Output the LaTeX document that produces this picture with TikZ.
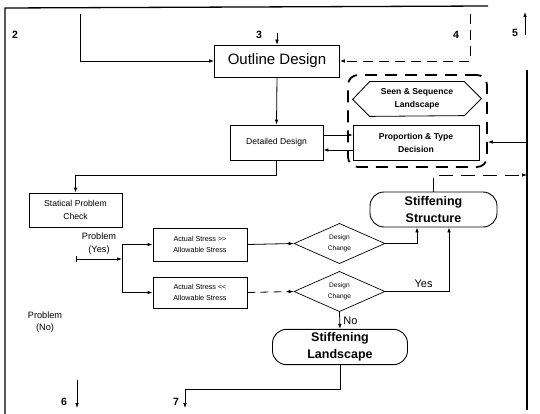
\documentclass[tikz,border=0pt]{standalone}
\usepackage{fontspec}
\setmainfont{Liberation Sans}
\usetikzlibrary{arrows.meta,shapes.geometric,calc}
\begin{document}
\begin{tikzpicture}[x=1pt,y=-1pt,
  line width=0.8pt,
  arr/.style={-{Latex[length=5pt,width=3.6pt]}},
  box/.style={draw,line width=0.7pt,inner sep=1pt,align=center},
  tiny/.style={font=\fontsize{7.2}{11}\selectfont},
  small/.style={font=\fontsize{8.6}{12.5}\selectfont},
  smallb/.style={font=\bfseries\fontsize{8.6}{13}\selectfont},
  stad/.style={draw,line width=0.9pt,rounded corners=14pt,align=center,font=\bfseries\fontsize{12.5}{17}\selectfont},
  dia/.style={draw,diamond,line width=0.7pt,inner sep=0pt,align=center,font=\fontsize{6.6}{11}\selectfont},
  num/.style={font=\bfseries\fontsize{10.5}{12}\selectfont},
  lab/.style={font=\fontsize{9.2}{12.5}\selectfont,align=center},
  grp/.style={draw,line width=1.8pt,dash pattern=on 12pt off 8pt,rounded corners=10pt},
  frame/.style={line width=1.3pt}
]
\useasboundingbox (0,0) rectangle (540,414);

% frame
\draw[frame] (5,414) -- (5,8) -- (488,6);
\draw[frame] (527,410) -- (527,70);

% nodes
\node[box,minimum width=125,minimum height=32,font=\fontsize{15}{17}\selectfont] (outline) at (277,61) {Outline Design};
\node[box,minimum width=93,minimum height=35,small] (detailed) at (276.5,142.5) {Detailed Design};
\node[grp,minimum width=139,minimum height=92] (group) at (417.5,121) {};
\node[minimum width=94,minimum height=34,smallb,align=center,inner sep=0pt] (hex) at (417,99) {Seen \& Sequence\\Landscape};
\draw[line width=0.8pt] (hex.north west) -- (hex.north east) -- ++(17,17) -- ++(-17,17) -- (hex.south west) -- ++(-17,-17) -- cycle;
\node[box,minimum width=126,minimum height=35,smallb] (prop) at (416,142.5) {Proportion \& Type\\Decision};
\node[box,minimum width=93,minimum height=34,small] (stat) at (75.5,210) {Statical Problem\\Check};
\node[box,minimum width=94,minimum height=33,tiny] (act1) at (200,244.5) {Actual Stress >{}>\\Allowable Stress};
\node[box,minimum width=94,minimum height=31,tiny] (act2) at (200,292.5) {Actual Stress <{}<\\Allowable Stress};
\node[dia,minimum width=91,minimum height=33] (dc1) at (339.5,243.5) {Design\\Change};
\node[dia,minimum width=91,minimum height=33] (dc2) at (339.5,291.5) {Design\\Change};
\node[stad,minimum width=127,minimum height=35] (ss) at (433.5,209.5) {Stiffening\\Structure};
\node[stad,minimum width=135,minimum height=32] (sl) at (340,347) {Stiffening\\Landscape};

% labels
\node[num] (n2) at (15,35) {2};
\node[num] (n3) at (259,35) {3};
\node[num] (n4) at (456,35) {4};
\node[num] (n5) at (515,33) {5};
\node[num] (n6) at (64,402) {6};
\node[num] (n7) at (176,402) {7};
\node[lab] (py) at (99,243.5) {Problem\\(Yes)};
\node[lab] (pn) at (45,322) {Problem\\(No)};

% coordinates
\coordinate (c2) at (80,14);
\coordinate (c3) at (277,33);
\coordinate (c4) at (470,14);
\coordinate (c5a) at (525,35);
\coordinate (c5b) at (525,12);
\coordinate (cR) at (527,142);
\coordinate (cR2) at (527,175);
\coordinate (cs) at (76,259);
\coordinate (ce) at (122,259);
\coordinate (c6a) at (77,380);
\coordinate (c6b) at (77,408);
\coordinate (c7) at (185,408);

% connectors
\draw[arr] (c2) |- (outline.west);
\draw[arr,line width=0.6pt] (c3) -- (outline.north);
\draw[arr,dashed,dash pattern=on 10pt off 6pt] (c4) |- (outline.east);
\draw[arr] (c5a) -- (c5b);
\draw[arr] (outline.south) -- (detailed.north);
\draw[arr,line width=0.6pt] ([yshift=7.5pt]detailed.east) -- ([yshift=7.5pt]prop.west);
\draw[arr] ([yshift=-7.5pt]prop.west) -- ([yshift=-7.5pt]detailed.east);
\draw[arr] (cR) -- (cR -| group.east);
\draw[arr] (detailed.south) -- ++(0,15.5) -| (stat.north);
\draw (act1.west -| ce) -- (act2.west -| ce);
\draw[arr] (act1.west -| ce) -- (act1.west);
\draw[arr] (act2.west -| ce) -- (act2.west);
\draw[arr] (cs) -- (ce);
\draw ([yshift=3pt]cs) -- ([yshift=-3pt]cs);
\draw[arr] (act1.east) -- (dc1.west);
\draw[arr,dashed,dash pattern=on 8pt off 5pt] (act2.east) -- (dc2.west);
\draw[arr] (dc1.east) -| ([xshift=-16.5pt]ss.south);
\draw[arr] (dc2.east) -| ([xshift=15.5pt]ss.south) node[pos=0.3,above,font=\fontsize{11}{12}\selectfont] {Yes};
\draw[arr] (dc2.south) -- (sl.north) node[midway,right,font=\fontsize{11}{12}\selectfont] {No};
\draw[arr] (sl.south) |- ++(-155,24) -- (c7);
\draw[arr,dashed,dash pattern=on 14pt off 8pt] (ss.north) |- (cR2);
\draw[arr] (c6a) -- (c6b);
\end{tikzpicture}
\end{document}
